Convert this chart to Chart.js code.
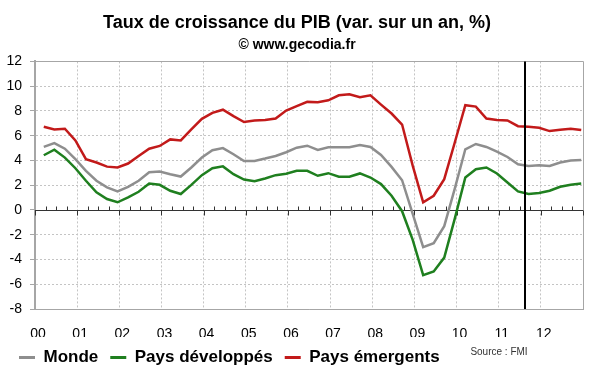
<!DOCTYPE html>
<html><head><meta charset="utf-8">
<script src="https://cdn.jsdelivr.net/npm/chart.js@4.4.1/dist/chart.umd.min.js"></script>
<style>html,body{margin:0;padding:0;background:#fff}#wrap{width:600px;height:372px;position:relative}</style>
</head><body><div id="wrap"><canvas id="c" width="600" height="372"></canvas></div>
<script>
// Quarterly categories 2000T1 .. 2012T4
const quarters = [
 '2000T1','2000T2','2000T3','2000T4','2001T1','2001T2','2001T3','2001T4',
 '2002T1','2002T2','2002T3','2002T4','2003T1','2003T2','2003T3','2003T4',
 '2004T1','2004T2','2004T3','2004T4','2005T1','2005T2','2005T3','2005T4',
 '2006T1','2006T2','2006T3','2006T4','2007T1','2007T2','2007T3','2007T4',
 '2008T1','2008T2','2008T3','2008T4','2009T1','2009T2','2009T3','2009T4',
 '2010T1','2010T2','2010T3','2010T4','2011T1','2011T2','2011T3','2011T4',
 '2012T1','2012T2','2012T3','2012T4'];
const monde = [5.1,5.4,4.95,4.1,3.16,2.36,1.82,1.5,1.87,2.36,3.05,3.1,2.89,2.7,3.43,4.23,
 4.82,5.0,4.5,3.96,3.96,4.15,4.36,4.66,5.03,5.19,4.85,5.06,5.06,5.06,5.25,5.09,
 4.44,3.48,2.4,-0.3,-3.0,-2.68,-1.31,1.72,4.9,5.33,5.09,4.71,4.28,3.69,3.56,3.61,
 3.56,3.83,3.99,4.04];
const developpes = [4.42,4.87,4.23,3.37,2.36,1.42,0.88,0.62,1.02,1.47,2.14,2.03,1.55,1.29,2.03,2.81,
 3.37,3.52,2.89,2.46,2.33,2.54,2.81,2.92,3.16,3.16,2.76,2.97,2.68,2.68,2.95,2.62,
 2.09,1.15,-0.1,-2.4,-5.27,-4.97,-3.85,-0.7,2.62,3.29,3.43,2.95,2.22,1.5,1.29,1.37,
 1.55,1.87,2.03,2.14];
const emergents = [6.72,6.5,6.56,5.62,4.1,3.83,3.5,3.43,3.75,4.36,4.95,5.17,5.7,5.62,6.5,7.36,
 7.84,8.1,7.58,7.1,7.23,7.26,7.39,8.03,8.38,8.73,8.7,8.86,9.26,9.34,9.1,9.26,
 8.51,7.79,6.9,3.6,0.62,1.15,2.49,5.45,8.46,8.35,7.39,7.26,7.23,6.77,6.72,6.64,
 6.37,6.48,6.56,6.45];
const yearTicks = ['00','01','02','03','04','05','06','07','08','09','10','11','12'];
const forecastStart = 2011.63; // vertical separator (projections FMI)
const yTicks = [-8,-6,-4,-2,0,2,4,6,8,10,12];

// quarter -> decimal date (middle of last month of quarter)
const qToX = s => { const yr = +s.slice(0,4), q = +s.slice(5); return yr + (3*q - 0.5)/12; };
const toPts = arr => arr.map((v,i)=>({x: qToX(quarters[i]), y: v}));

const FONT = "'Liberation Sans', Arial, sans-serif";

const annot = {
  id: 'annot',
  beforeDatasetsDraw(chart) {
    const {ctx, chartArea: a, scales: {x, y}} = chart;
    ctx.save();
    // top and right frame
    ctx.strokeStyle = '#a6a6a6'; ctx.lineWidth = 1;
    ctx.beginPath();
    ctx.moveTo(a.left, Math.round(a.top)+0.5); ctx.lineTo(Math.round(a.right)+0.5, Math.round(a.top)+0.5);
    ctx.lineTo(Math.round(a.right)+0.5, a.bottom);
    ctx.stroke();
    // zero line with quarterly ticks
    const y0 = Math.round(y.getPixelForValue(0)) + 0.5;
    ctx.strokeStyle = '#333'; ctx.lineWidth = 1;
    ctx.beginPath();
    ctx.moveTo(a.left, y0); ctx.lineTo(a.right, y0);
    for (let i = 0; i < yearTicks.length + 1; i++) {
      for (let q = 0; q < 4; q++) {
        const v = 2000 + i + q/4;
        if (v > x.max) break;
        const px = Math.round(x.getPixelForValue(v)) + 0.5;
        if (q === 0) { ctx.moveTo(px, y0); ctx.lineTo(px, y0 + 5); }
        else { ctx.moveTo(px, y0); ctx.lineTo(px, y0 - 4); }
      }
    }
    ctx.stroke();
    ctx.restore();
  },
  afterDatasetsDraw(chart) {
    const {ctx, chartArea: a, scales: {x}} = chart;
    const px = Math.round(x.getPixelForValue(forecastStart));
    ctx.save();
    ctx.strokeStyle = '#000'; ctx.lineWidth = 2;
    ctx.beginPath(); ctx.moveTo(px, a.top); ctx.lineTo(px, a.bottom); ctx.stroke();
    ctx.restore();
  },
  afterDraw(chart) {
    const {ctx} = chart;
    ctx.save();
    ctx.font = '10px ' + FONT; ctx.fillStyle = '#333';
    ctx.textAlign = 'center'; ctx.textBaseline = 'middle';
    ctx.fillText('Source : FMI', 499, 352);
    ctx.restore();
  }
};

new Chart(document.getElementById('c'), {
  type: 'line',
  data: {
    datasets: [
      {label: 'Monde', data: toPts(monde), borderColor: '#8e8e8e', backgroundColor: '#8e8e8e'},
      {label: 'Pays développés', data: toPts(developpes), borderColor: '#1f7f1f', backgroundColor: '#1f7f1f'},
      {label: 'Pays émergents', data: toPts(emergents), borderColor: '#c21a1a', backgroundColor: '#c21a1a'}
    ]
  },
  options: {
    responsive: false, animation: false,
    layout: {padding: {left: 7, right: 13, top: 0, bottom: -4}},
    elements: {point: {radius: 0}, line: {borderWidth: 2.5, tension: 0, fill: false}},
    plugins: {
      title: {display: true, text: 'Taux de croissance du PIB (var. sur un an, %)', color: '#000',
        font: {family: FONT, size: 18, weight: 'bold'}, padding: {top: 12, bottom: 2}},
      subtitle: {display: true, text: '© www.gecodia.fr', color: '#000',
        font: {family: FONT, size: 14, weight: 'bold'}, padding: {top: 1, bottom: 8}},
      legend: {position: 'bottom', align: 'start',
        labels: {boxWidth: 16, boxHeight: 3, padding: 12, color: '#000',
          font: {family: FONT, size: 17, weight: 'bold'},
          generateLabels: (chart) => chart.data.datasets.map((ds, i) => ({
            text: ds.label, fillStyle: ds.borderColor, strokeStyle: ds.borderColor,
            lineWidth: 0, hidden: false, datasetIndex: i, fontColor: '#000'}))}},
      tooltip: {enabled: false}
    },
    scales: {
      x: {type: 'linear', min: 2000, max: 2013,
        afterBuildTicks: (s) => { s.ticks = yearTicks.map((t, i) => ({value: 2000 + i})).concat([{value: 2013}]); },
        afterFit: (s) => { s.height = 28; },
        ticks: {color: '#000', font: {family: FONT, size: 14}, padding: 17, labelOffset: 3, maxRotation: 0,
          callback: (v) => { const i = Math.round(v) - 2000; return yearTicks[i] !== undefined ? yearTicks[i] : ''; }},
        grid: {color: (c) => (c.tick && c.tick.value === 2013) ? 'rgba(0,0,0,0)' : '#c4c4c4', drawTicks: false},
        border: {display: true, color: '#a6a6a6', width: 1, dash: [2, 2]}
      },
      y: {type: 'linear', min: -8, max: 12,
        afterBuildTicks: (s) => { s.ticks = yTicks.map(v => ({value: v})); },
        afterFit: (s) => { s.width = 28; },
        ticks: {color: '#000', font: {family: FONT, size: 14}, padding: 8},
        grid: {color: (c) => (c.tick && (c.tick.value === 0 || c.tick.value === 12)) ? 'rgba(0,0,0,0)' : '#c4c4c4',
          tickColor: '#a6a6a6', tickLength: 5, tickBorderDash: []},
        border: {display: true, color: '#a6a6a6', width: 2, dash: [2, 2]}
      }
    }
  },
  plugins: [annot]
});
</script></body></html>
